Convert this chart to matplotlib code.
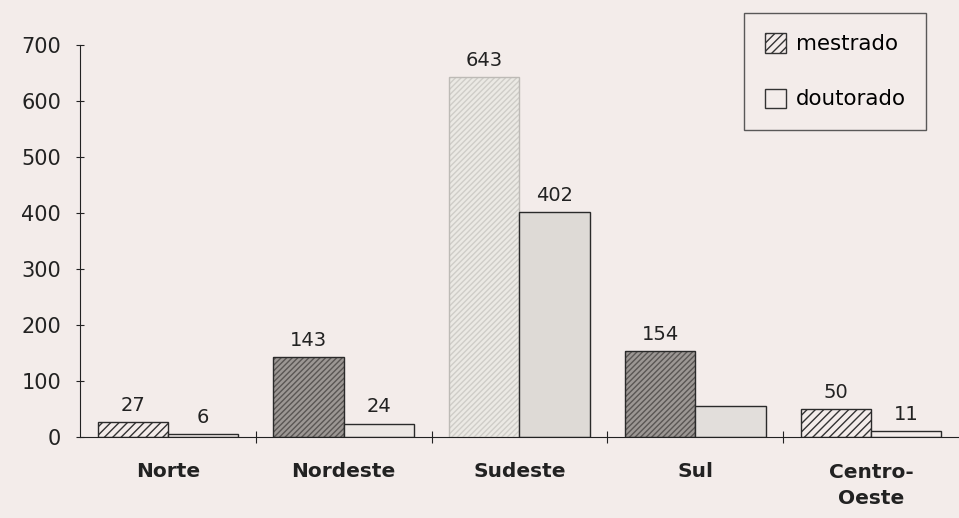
import matplotlib
matplotlib.use('Agg')
import matplotlib.pyplot as plt
from matplotlib.patches import Patch
import numpy as np

regioes = ['Norte', 'Nordeste', 'Sudeste', 'Sul', 'Centro-\nOeste']
mestrado = [27, 143, 643, 154, 50]
doutorado = [6, 24, 402, 56, 11]
rotulos_dout = ['6', '24', '402', '', '11']

# cores aproximadas do scan
cor_fundo = '#f3ecea'
face_mest = ['#f3ecea', '#9c9794', '#ebe9e4', '#9c9794', '#f3ecea']
hatch_mest = ['#333333', '#5a5654', '#cfcdc8', '#5a5654', '#333333']
face_dout = ['#f3ecea', '#ece7e4', '#dedad6', '#e2dedb', '#f3ecea']

plt.rcParams['font.family'] = ['DejaVu Sans']
plt.rcParams['hatch.linewidth'] = 1.0

fig = plt.figure(figsize=(9.59, 5.18), dpi=100)
fig.patch.set_facecolor(cor_fundo)
ax = fig.add_axes([0.0834, 0.156, 0.9166, 0.757])
ax.set_facecolor(cor_fundo)

x = np.arange(len(regioes))
w = 0.4

for i in range(len(regioes)):
    ax.bar(x[i] - w / 2, mestrado[i], w, color=face_mest[i], edgecolor=hatch_mest[i],
           hatch='//////' if i in (1, 2, 3) else '////', linewidth=0)
    ax.bar(x[i] - w / 2, mestrado[i], w, fill=False,
           edgecolor='#bdbab6' if i == 2 else '#2a2a2a', linewidth=1.0)
    ax.bar(x[i] + w / 2, doutorado[i], w, color=face_dout[i], edgecolor='#2a2a2a', linewidth=1.0)
    ax.text(x[i] - w / 2, mestrado[i] + 13, str(mestrado[i]), ha='center', va='bottom',
            fontsize=14, color='#222222')
    if rotulos_dout[i]:
        ax.text(x[i] + w / 2, doutorado[i] + 13, rotulos_dout[i], ha='center', va='bottom',
                fontsize=14, color='#222222')

ax.set_xlim(-0.5, len(regioes) - 0.5)
ax.set_ylim(0, 700)
ax.set_yticks(range(0, 701, 100))
ax.tick_params(axis='y', labelsize=15, length=6, direction='inout', pad=10.5, colors='#222222')
ax.set_xticks(np.arange(0.5, len(regioes) - 0.5, 1.0))
ax.set_xticklabels([])
ax.tick_params(axis='x', length=9, direction='inout', colors='#222222')

for i, nome in enumerate(regioes):
    ax.text(x[i], -46 if i == 4 else -44, nome, ha='center', va='top', fontsize=14.5,
            fontweight='bold', color='#222222', linespacing=1.45)

for lado in ['top', 'right']:
    ax.spines[lado].set_visible(False)
ax.spines['left'].set_color('#222222')
ax.spines['bottom'].set_color('#222222')

handles = [Patch(facecolor=cor_fundo, edgecolor='#333333', hatch='////'),
           Patch(facecolor=cor_fundo, edgecolor='#333333')]
leg = ax.legend(handles, ['mestrado', 'doutorado'], loc='upper left',
                bbox_to_anchor=(0.7557, 1.0816), fontsize=15.4, frameon=True, fancybox=False,
                labelspacing=1.6, handlelength=1.0, handleheight=1.0, handletextpad=0.45,
                borderpad=0.95, borderaxespad=0, edgecolor='#333333', facecolor=cor_fundo)
leg.get_frame().set_linewidth(1.0)

fig.savefig('out.png', dpi=100, facecolor=cor_fundo)
